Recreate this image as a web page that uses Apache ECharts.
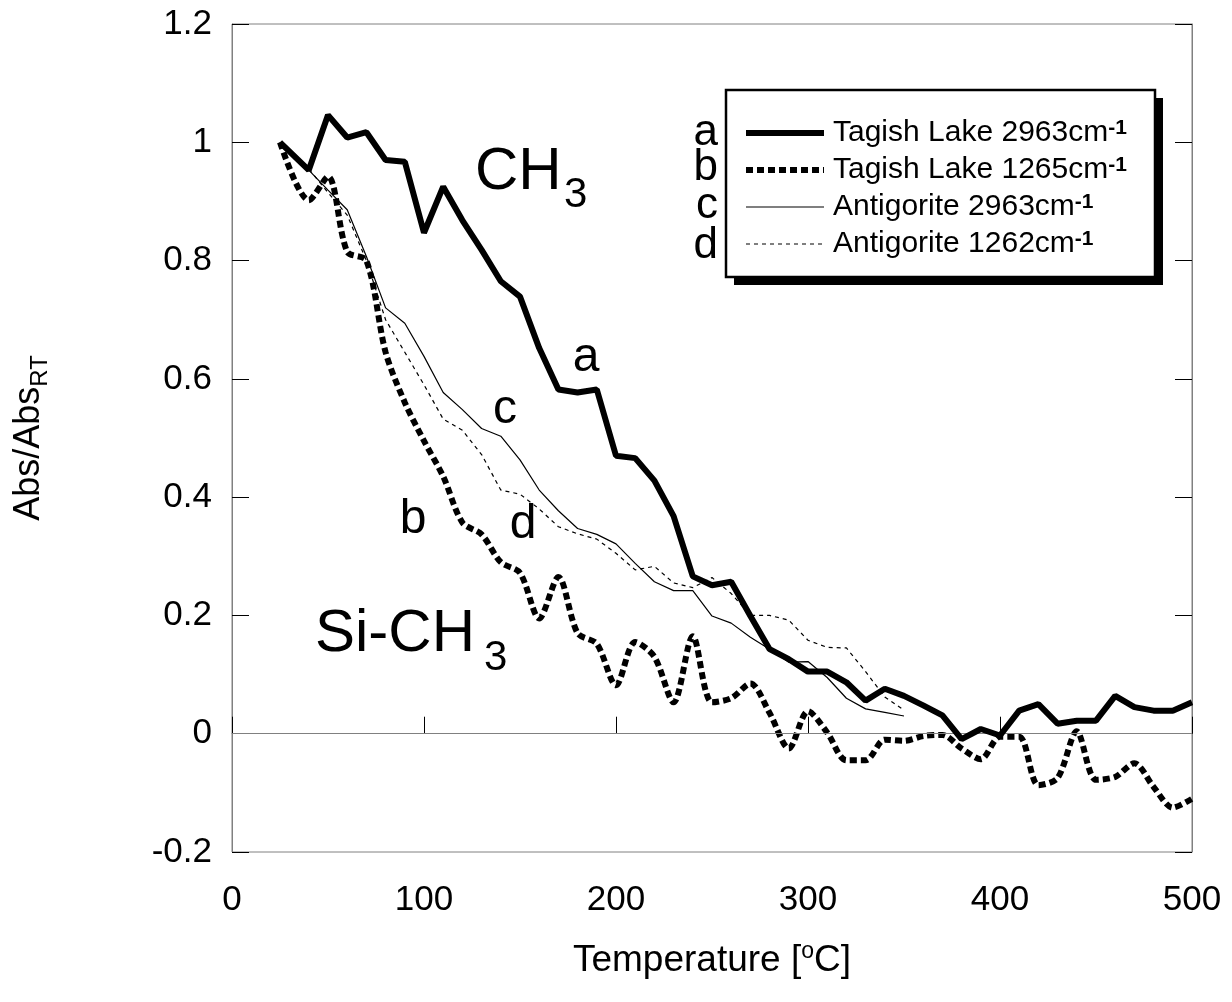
<!DOCTYPE html>
<html lang="en">
<head>
<meta charset="UTF-8">
<title>Abs/AbsRT vs Temperature</title>
<script src="https://cdn.jsdelivr.net/npm/echarts@6/dist/echarts.min.js"></script>
<style>
html,body{margin:0;padding:0;background-color:#fff}
#chartBox{width:1232px;height:1002px}
</style>
</head>
<body>
<div id="chartBox"></div>
<script>
// 温度 (°C)
const tempTagish = [25,40,50,60,70,80,90,100,110,120,130,140,150,160,170,180,190,200,210,220,230,240,250,260,270,280,290,300,310,320,330,340,350,360,370,380,390,400,410,420,430,440,450,460,470,480,490,500];
const tempAntigorite = [25,40,50,60,70,80,90,100,110,120,130,140,150,160,170,180,190,200,210,220,230,240,250,260,270,280,290,300,310,320,330,340,350];

// a: Tagish Lake 2963
const tagish2963 = [1.0,0.953,1.046,1.008,1.017,0.970,0.967,0.847,0.925,0.868,0.818,0.765,0.739,0.652,0.582,0.577,0.582,0.470,0.466,0.428,0.368,0.266,0.251,0.257,0.199,0.143,0.126,0.105,0.105,0.087,0.056,0.076,0.064,0.048,0.031,-0.009,0.008,-0.003,0.039,0.050,0.017,0.022,0.022,0.064,0.045,0.039,0.039,0.053];
// b: Tagish Lake 1265
const tagish1265 = [1.0,0.902,0.942,0.815,0.800,0.645,0.560,0.495,0.435,0.357,0.337,0.290,0.272,0.195,0.265,0.170,0.152,0.082,0.155,0.130,0.053,0.165,0.053,0.060,0.085,0.035,-0.025,0.038,0.002,-0.045,-0.045,-0.010,-0.012,-0.004,-0.002,-0.025,-0.043,-0.005,-0.005,-0.087,-0.075,0.004,-0.078,-0.073,-0.050,-0.090,-0.125,-0.110];
// c: Antigorite 2963
const antigorite2963 = [1.0,0.953,0.919,0.886,0.807,0.720,0.694,0.638,0.577,0.548,0.516,0.503,0.463,0.412,0.377,0.347,0.337,0.321,0.288,0.257,0.242,0.242,0.199,0.187,0.163,0.143,0.121,0.122,0.095,0.060,0.042,0.036,0.030];
// d: Antigorite 1262
const antigorite1262 = [1.0,0.955,0.915,0.877,0.800,0.700,0.645,0.590,0.532,0.513,0.472,0.412,0.405,0.380,0.350,0.338,0.329,0.305,0.277,0.283,0.255,0.247,0.264,0.237,0.200,0.200,0.192,0.158,0.146,0.145,0.105,0.062,0.040];

const seriesNames = ['Tagish Lake 2963cm-1','Tagish Lake 1265cm-1','Antigorite 2963cm-1','Antigorite 1262cm-1'];
const legendLetters = ['a','b','c','d'];

const FONT = "'Liberation Sans', Arial, sans-serif";

function pairs(xs, ys) {
    return xs.map((x, i) => [x, ys[i]]);
}

function makeText(str, x, y, size, align) {
    return {
        type: 'text', x: x, y: y, silent: true, z: 20,
        style: {text: str, fontSize: size, fontFamily: FONT, fill: '#000', align: align || 'left', verticalAlign: 'middle'}
    };
}

let axisCommon = {
    axisLine: {show: true, lineStyle: {color: '#808080', width: 1}},
    axisTick: {show: true, inside: true, length: 17, lineStyle: {color: '#000', width: 1}},
    splitLine: {show: false}
};

let option = {
    animation: false,
    backgroundColor: '#fff',
    grid: {left: 232, right: 40, top: 24, bottom: 150, show: true, borderColor: '#808080', borderWidth: 1},
    xAxis: Object.assign({
        type: 'value', min: 0, max: 500, interval: 100,
        axisLabel: {fontSize: 35, fontFamily: FONT, color: '#000', margin: 31},
        name: '{n|Temperature [}{sup|o}{n|C]}',
        nameLocation: 'middle', nameGap: 88,
        nameTextStyle: {
            fontFamily: FONT, color: '#000',
            rich: {
                n: {fontSize: 37, fontFamily: FONT, color: '#000', lineHeight: 42},
                sup: {fontSize: 23, fontFamily: FONT, color: '#000', verticalAlign: 'top', lineHeight: 23}
            }
        }
    }, axisCommon),
    yAxis: [
        Object.assign({
            type: 'value', min: -0.2, max: 1.2, interval: 0.2, position: 'left',
            axisLabel: {fontSize: 35, fontFamily: FONT, color: '#000', margin: 20,
                formatter: v => String(Math.round(v * 10) / 10)},
            name: '{n|Abs/Abs}{sub|RT}',
            nameLocation: 'middle', nameGap: 180,
            nameTextStyle: {
                fontFamily: FONT, color: '#000',
                rich: {
                    n: {fontSize: 36, fontFamily: FONT, color: '#000', lineHeight: 46},
                    sub: {fontSize: 24, fontFamily: FONT, color: '#000', verticalAlign: 'bottom', lineHeight: 24}
                }
            }
        }, axisCommon),
        Object.assign({
            type: 'value', min: -0.2, max: 1.2, interval: 0.2, position: 'right',
            axisLabel: {show: false}
        }, axisCommon)
    ],
    legend: {
        orient: 'vertical',
        left: 743, top: 118,
        padding: 0,
        z: 30,
        itemWidth: 78, itemHeight: 2, itemGap: 7,
        itemStyle: {opacity: 0},
        lineStyle: {width: 'inherit'},
        data: seriesNames,
        formatter: name => '{t|' + name.replace('cm-1', 'cm') + '}{s|-1}',
        textStyle: {
            padding: [0, 0, 0, 4],
            rich: {
                t: {fontSize: 30, fontFamily: FONT, color: '#000', lineHeight: 30},
                s: {fontSize: 21, fontFamily: FONT, color: '#000', fontWeight: 'bold', verticalAlign: 'top', lineHeight: 21}
            }
        }
    },
    series: [
        {
            type: 'line', name: seriesNames[0], data: pairs(tempTagish, tagish2963),
            symbol: 'none', color: '#000', lineStyle: {width: 6, color: '#000'},
            z: 5,
            markLine: {
                silent: true, symbol: 'none', label: {show: false},
                lineStyle: {color: '#808080', width: 1, type: 'solid'},
                data: [{yAxis: 0}]
            }
        },
        {
            type: 'line', name: seriesNames[1], data: pairs(tempTagish, tagish1265),
            symbol: 'none', color: '#000', smooth: 0.3,
            lineStyle: {width: 6, color: '#000', type: [7, 4], cap: 'butt'}, z: 4
        },
        {
            type: 'line', name: seriesNames[2], data: pairs(tempAntigorite, antigorite2963),
            symbol: 'none', color: '#000', lineStyle: {width: 1.2, color: '#000'}, z: 3
        },
        {
            type: 'line', name: seriesNames[3], data: pairs(tempAntigorite, antigorite1262),
            symbol: 'none', color: '#000', lineStyle: {width: 1.2, color: '#000', type: [4, 4]}, z: 3
        }
    ],
    graphic: [
        // 图例外框与阴影
        {type: 'rect', silent: true, z: 10, shape: {x: 734, y: 98, width: 429, height: 187}, style: {fill: '#000'}},
        {type: 'rect', silent: true, z: 11, shape: {x: 726, y: 90, width: 429, height: 187}, style: {fill: '#fff', stroke: '#000', lineWidth: 2.5}},
        // 图中标注
        makeText('CH', 475, 172, 60),
        makeText('3', 564, 195, 42),
        makeText('Si-CH', 315, 634, 60),
        makeText('3', 484, 658, 42),
        makeText('a', 586, 358, 48, 'center'),
        makeText('c', 505, 410, 48, 'center'),
        makeText('b', 413, 520, 48, 'center'),
        makeText('d', 523, 525, 48, 'center'),
        // 图例字母
        makeText(legendLetters[0], 718, 133, 44, 'right'),
        makeText(legendLetters[1], 718, 168, 44, 'right'),
        makeText(legendLetters[2], 718, 206, 44, 'right'),
        makeText(legendLetters[3], 718, 246, 44, 'right')
    ]
};

let chartObj = echarts.init(document.getElementById('chartBox'), null, {renderer: 'canvas'});
chartObj.setOption(option);
</script>
</body>
</html>
